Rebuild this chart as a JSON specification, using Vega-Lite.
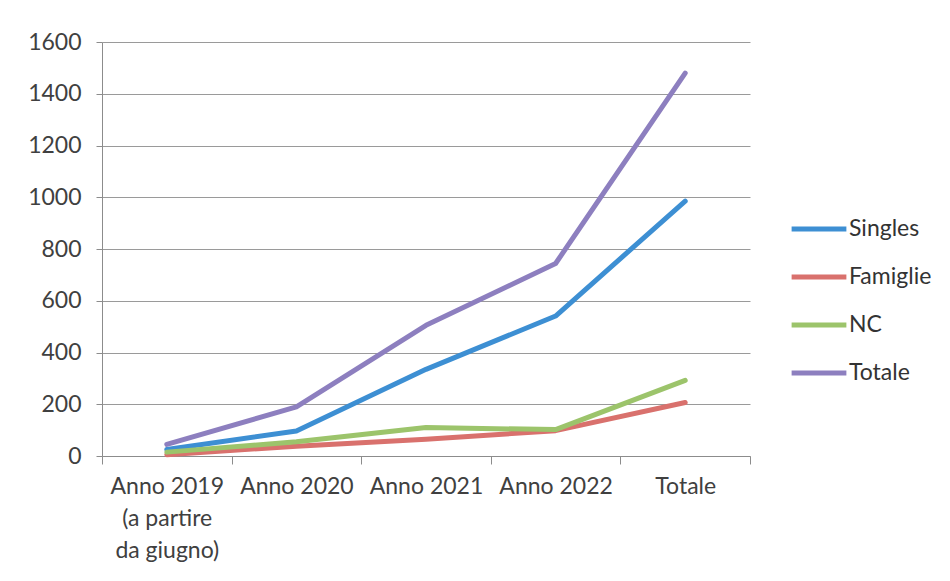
{
  "$schema": "https://vega.github.io/schema/vega-lite/v6.json",
  "width": 648,
  "height": 414,
  "autosize": "none",
  "padding": {"left": 102, "top": 42, "right": 200, "bottom": 125},
  "background": "white",
  "config": {
    "font": "Lato",
    "view": {"stroke": null},
    "axis": {"labelFont": "Lato", "labelColor": "#404040", "labelFontSize": 23, "domainColor": "#8c8c8c", "tickColor": "#8c8c8c", "gridColor": "#9a9a9a"},
    "legend": {"labelFont": "Lato"}
  },
  "data": {
    "values": [
      {"periodo": "Anno 2019|(a partire|da giugno)", "serie": "Singles", "valore": 25},
      {"periodo": "Anno 2020", "serie": "Singles", "valore": 97},
      {"periodo": "Anno 2021", "serie": "Singles", "valore": 335},
      {"periodo": "Anno 2022", "serie": "Singles", "valore": 541},
      {"periodo": "Totale", "serie": "Singles", "valore": 985},
      {"periodo": "Anno 2019|(a partire|da giugno)", "serie": "Famiglie", "valore": 5},
      {"periodo": "Anno 2020", "serie": "Famiglie", "valore": 38},
      {"periodo": "Anno 2021", "serie": "Famiglie", "valore": 65},
      {"periodo": "Anno 2022", "serie": "Famiglie", "valore": 98},
      {"periodo": "Totale", "serie": "Famiglie", "valore": 207},
      {"periodo": "Anno 2019|(a partire|da giugno)", "serie": "NC", "valore": 15},
      {"periodo": "Anno 2020", "serie": "NC", "valore": 55},
      {"periodo": "Anno 2021", "serie": "NC", "valore": 110},
      {"periodo": "Anno 2022", "serie": "NC", "valore": 102},
      {"periodo": "Totale", "serie": "NC", "valore": 292},
      {"periodo": "Anno 2019|(a partire|da giugno)", "serie": "Totale", "valore": 45},
      {"periodo": "Anno 2020", "serie": "Totale", "valore": 190},
      {"periodo": "Anno 2021", "serie": "Totale", "valore": 505},
      {"periodo": "Anno 2022", "serie": "Totale", "valore": 744},
      {"periodo": "Totale", "serie": "Totale", "valore": 1480}
    ]
  },
  "mark": {"type": "line", "strokeWidth": 5, "strokeCap": "round", "strokeJoin": "round"},
  "encoding": {
    "x": {
      "field": "periodo",
      "type": "nominal",
      "sort": null,
      "bandPosition": 0.5,
      "scale": {"type": "band", "paddingInner": 0, "paddingOuter": 0},
      "axis": {
        "title": null,
        "labelAngle": 0,
        "tickBand": "extent",
        "tickSize": 8,
        "labelPadding": 11,
        "labelExpr": "split(datum.label, '|')",
        "labelLineHeight": 32,
        "labelBaseline": "top",
        "grid": false
      }
    },
    "y": {
      "field": "valore",
      "type": "quantitative",
      "scale": {"domain": [0, 1600], "nice": false},
      "axis": {"title": null, "format": "d", "values": [0, 200, 400, 600, 800, 1000, 1200, 1400, 1600], "tickSize": 6, "labelPadding": 15, "grid": true}
    },
    "color": {
      "field": "serie",
      "type": "nominal",
      "sort": ["Singles", "Famiglie", "NC", "Totale"],
      "scale": {"domain": ["Singles", "Famiglie", "NC", "Totale"], "range": ["#3d8fd3", "#d9716d", "#9cc46b", "#8d7fbf"]},
      "legend": {
        "title": null,
        "orient": "none",
        "legendX": 687,
        "legendY": 157,
        "symbolType": "stroke",
        "symbolSize": 3000,
        "symbolStrokeWidth": 5,
        "labelFontSize": 23,
        "labelColor": "#333333",
        "labelOffset": 0,
        "rowPadding": 6
      }
    }
  }
}
